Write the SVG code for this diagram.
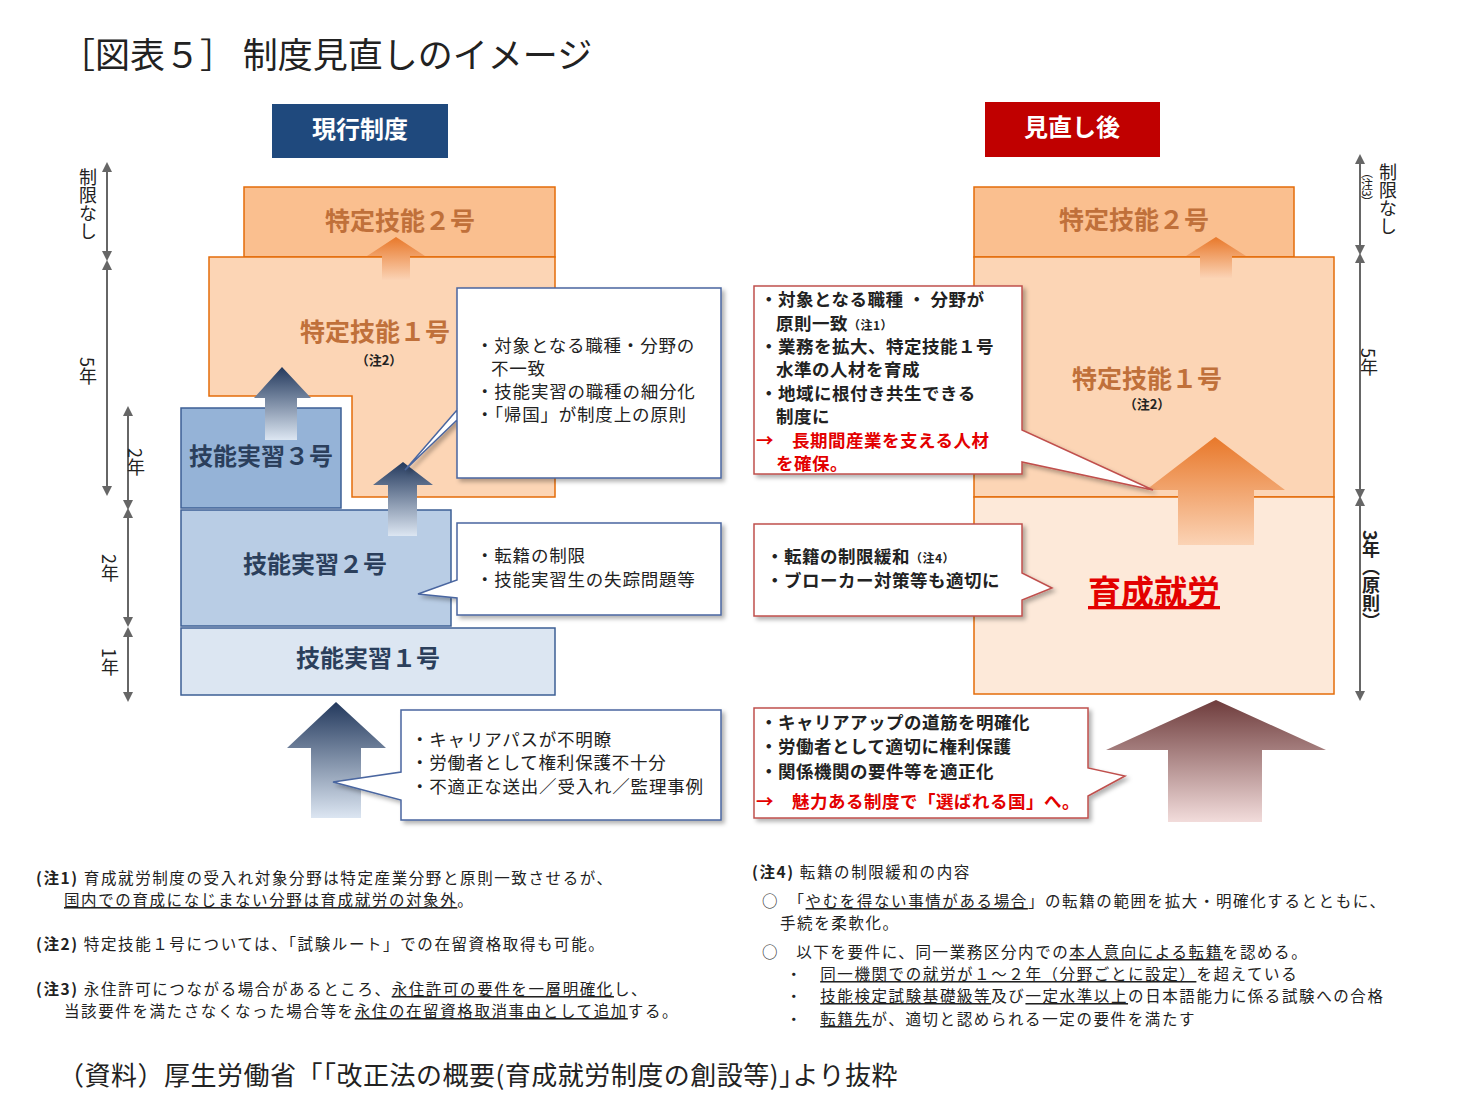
<svg xmlns="http://www.w3.org/2000/svg" width="1479" height="1120" viewBox="0 0 1479 1120">
<style>
text{font-family:"Noto Sans CJK JP","Noto Sans",sans-serif;fill:#222}
.h{font-size:24px;font-weight:bold;fill:#fff}
.ol{font-size:25px;font-weight:bold;fill:#c0703a}
.bl{font-size:24px;font-weight:bold;fill:#2b3f5c}
.c{font-size:17.5px;letter-spacing:0.8px}
.cb{font-size:17.5px;font-weight:bold;letter-spacing:0.5px}
.red{fill:#e30000}
.n{font-size:15.5px;letter-spacing:1.6px}
.nb{font-weight:bold}
.u{text-decoration:underline}
.v{font-size:18px;writing-mode:vertical-rl}
.tl{stroke:#666;stroke-width:2;fill:none;marker-start:url(#ah);marker-end:url(#ah)}
.cl{fill:#fff;stroke:#4a66a0;stroke-width:1.5;filter:url(#sh)}
.cr{fill:#fff;stroke:#c0504d;stroke-width:1.5;filter:url(#sh)}
.or{stroke:#e46c0a;stroke-width:1.5}
.bs{stroke:#3d5f95;stroke-width:1.5}
</style>
<defs>
<marker id="ah" viewBox="0 0 10 10" refX="5" refY="5" markerWidth="5" markerHeight="5" orient="auto-start-reverse"><path d="M0,0L10,5L0,10z" fill="#666"/></marker>
<filter id="sh" x="-10%" y="-10%" width="125%" height="125%"><feDropShadow dx="3" dy="3" stdDeviation="2" flood-color="#000" flood-opacity="0.3"/></filter>
<linearGradient id="go" x1="0" y1="0" x2="0" y2="1"><stop offset="0" stop-color="#e8782a"/><stop offset="1" stop-color="#fbd3b5"/></linearGradient>
<linearGradient id="gb" x1="0" y1="0" x2="0" y2="1"><stop offset="0" stop-color="#23395d"/><stop offset="1" stop-color="#dce6f2"/></linearGradient>
<linearGradient id="gr" x1="0" y1="0" x2="0" y2="1"><stop offset="0" stop-color="#6e3c3c"/><stop offset="1" stop-color="#f2dcdb"/></linearGradient>
</defs>
<rect width="1479" height="1120" fill="#fff"/>
<text x="60" y="68" style="font-size:35px">［図表５］ 制度見直しのイメージ</text>

<g id="hdr-left"><rect x="272" y="104" width="176" height="54" fill="#1f497d"/><text class="h" x="360" y="138" text-anchor="middle">現行制度</text></g>
<g id="hdr-right"><rect x="985" y="102" width="175" height="55" fill="#c00000"/><text class="h" x="1072" y="136" text-anchor="middle">見直し後</text></g>

<g id="l-tokutei2"><rect class="or" x="244" y="187" width="311" height="70" fill="#fabf8f"/><text class="ol" x="400" y="230" text-anchor="middle">特定技能２号</text></g>
<g id="l-tokutei1"><path class="or" d="M209,257H555V497H352V396H209Z" fill="#fcd5b5"/><text class="ol" x="375" y="341" text-anchor="middle">特定技能１号</text><text x="379" y="365" text-anchor="middle" style="font-size:13px;font-weight:bold">（注2）</text></g>
<g id="l-jisshu3"><rect class="bs" x="181" y="408" width="160" height="100" fill="#95b3d7"/><text class="bl" x="261" y="465" text-anchor="middle">技能実習３号</text></g>
<g id="l-jisshu2"><rect class="bs" x="181" y="510" width="270" height="116" fill="#b9cde5"/><text class="bl" x="315" y="573" text-anchor="middle">技能実習２号</text></g>
<g id="l-jisshu1"><rect class="bs" x="181" y="628" width="374" height="67" fill="#dce6f2"/><text class="bl" x="368" y="667" text-anchor="middle">技能実習１号</text></g>

<g id="r-tokutei2"><rect class="or" x="974" y="187" width="320" height="70" fill="#fabf8f"/><text class="ol" x="1134" y="229" text-anchor="middle">特定技能２号</text></g>
<g id="r-tokutei1"><rect class="or" x="974" y="257" width="360" height="240" fill="#fcd5b5"/><text class="ol" x="1147" y="388" text-anchor="middle">特定技能１号</text><text x="1147" y="409" text-anchor="middle" style="font-size:13px;font-weight:bold">（注2）</text></g>
<g id="r-ikusei"><rect class="or" x="974" y="497" width="360" height="197" fill="#fde9d9"/><text x="1154" y="604" text-anchor="middle" style="font-size:33px;font-weight:bold;fill:#e30000;text-decoration:underline">育成就労</text></g>

<g id="connectors">
<path d="M382,280V256H367L396,237L425,256H410V280Z" fill="url(#go)"/>
<path d="M1200,278V256H1186L1216,237L1246,256H1232V278Z" fill="url(#go)"/>
<path d="M265,440V398H254L282,367L311,398H297V440Z" fill="url(#gb)"/>
<path d="M388,536V485H373L403,462L433,485H417V536Z" fill="url(#gb)"/>
<path d="M311,818V748H287L336,702L386,748H361V818Z" fill="url(#gb)"/>
<path d="M1178,545V490H1146L1215,437L1285,490H1254V545Z" fill="url(#go)"/>
<path d="M1168,822V750H1106L1216,700L1326,750H1262V822Z" fill="url(#gr)"/>
<path class="tl" d="M107,167V256"/><path class="tl" d="M107,265V491"/>
<path class="tl" d="M128,411V505"/><path class="tl" d="M128,513V622"/><path class="tl" d="M128,632V697"/>
<path class="tl" d="M1360,159V250"/><path class="tl" d="M1360,258V494"/><path class="tl" d="M1360,501V696"/>
</g>

<g id="timeline-labels">
<text class="v" x="88" y="168">制限なし</text>
<text class="v" x="88" y="357">5年</text>
<text class="v" x="136" y="448">2年</text>
<text class="v" x="110" y="554">2年</text>
<text class="v" x="110" y="648">1年</text>
<text class="v" x="1388" y="163">制限なし</text>
<text x="1367" y="166" style="font-size:12px;writing-mode:vertical-rl">（注3）</text>
<text class="v" x="1369" y="348">5年</text>
<text class="v" x="1371" y="530" style="font-weight:bold">3年（原則）</text>
</g>

<g id="callout-l1"><path class="cl" d="M457,288H721V478H457V410L405,470L457,420Z"/>
<text class="c" x="476" y="352">・対象となる職種・分野の</text><text class="c" x="491" y="375">不一致</text><text class="c" x="476" y="398">・技能実習の職種の細分化</text><text class="c" x="476" y="421">・「帰国」が制度上の原則</text></g>
<g id="callout-l2"><path class="cl" d="M457,523H721V615H457V598L418,594L457,580Z"/>
<text class="c" x="476" y="562">・転籍の制限</text><text class="c" x="476" y="586">・技能実習生の失踪問題等</text></g>
<g id="callout-l3"><path class="cl" d="M401,710H721V820H401V800L333,782L401,772Z"/>
<text class="c" x="411" y="746">・キャリアパスが不明瞭</text><text class="c" x="411" y="769">・労働者として権利保護不十分</text><text class="c" x="411" y="793">・不適正な送出／受入れ／監理事例</text></g>

<g id="callout-r1"><path class="cr" d="M754,286H1022V430L1153,490L1022,462V474H754Z"/>
<text class="cb" x="760" y="306">・対象となる職種 ・ 分野が</text><text class="cb" x="776" y="330">原則一致<tspan style="font-size:12px">（注1）</tspan></text>
<text class="cb" x="760" y="353">・業務を拡大、特定技能１号</text><text class="cb" x="776" y="376">水準の人材を育成</text>
<text class="cb" x="760" y="400">・地域に根付き共生できる</text><text class="cb" x="776" y="423">制度に</text>
<text class="cb red" x="756" y="447">→　長期間産業を支える人材</text><text class="cb red" x="776" y="470">を確保。</text></g>
<g id="callout-r2"><path class="cr" d="M754,524H1022V573L1052,588L1022,600V616H754Z"/>
<text class="cb" x="766" y="563">・転籍の制限緩和<tspan style="font-size:12px">（注4）</tspan></text><text class="cb" x="766" y="587">・ブローカー対策等も適切に</text></g>
<g id="callout-r3"><path class="cr" d="M754,708H1088V768L1125,776L1088,796V818H754Z"/>
<text class="cb" x="760" y="729">・キャリアアップの道筋を明確化</text><text class="cb" x="760" y="753">・労働者として適切に権利保護</text><text class="cb" x="760" y="778">・関係機関の要件等を適正化</text>
<text class="cb red" x="756" y="808">→　魅力ある制度で「選ばれる国」へ。</text></g>

<g id="notes">
<text class="n" x="36" y="884"><tspan class="nb">(注1)</tspan> 育成就労制度の受入れ対象分野は特定産業分野と原則一致させるが、</text>
<text class="n" x="64" y="906"><tspan class="u">国内での育成になじまない分野は育成就労の対象外</tspan>。</text>
<text class="n" x="36" y="950"><tspan class="nb">(注2)</tspan> 特定技能１号については、「試験ルート」での在留資格取得も可能。</text>
<text class="n" x="36" y="995"><tspan class="nb">(注3)</tspan> 永住許可につながる場合があるところ、<tspan class="u">永住許可の要件を一層明確化</tspan>し、</text>
<text class="n" x="64" y="1017">当該要件を満たさなくなった場合等を<tspan class="u">永住の在留資格取消事由として追加</tspan>する。</text>
<text class="n" x="752" y="878"><tspan class="nb">(注4)</tspan> 転籍の制限緩和の内容</text>
<text class="n" x="762" y="907">○　「<tspan class="u">やむを得ない事情がある場合</tspan>」の転籍の範囲を拡大・明確化するとともに、</text>
<text class="n" x="780" y="929">手続を柔軟化。</text>
<text class="n" x="762" y="958">○　以下を要件に、同一業務区分内での<tspan class="u">本人意向による転籍</tspan>を認める。</text>
<text class="n" x="786" y="980">・　<tspan class="u">同一機関での就労が１～２年（分野ごとに設定）</tspan>を超えている</text>
<text class="n" x="786" y="1002">・　<tspan class="u">技能検定試験基礎級等</tspan>及び<tspan class="u">一定水準以上</tspan>の日本語能力に係る試験への合格</text>
<text class="n" x="786" y="1025">・　<tspan class="u">転籍先</tspan>が、適切と認められる一定の要件を満たす</text>
</g>
<text x="58" y="1085" style="font-size:26px;letter-spacing:0.5px">（資料）厚生労働省「｢改正法の概要(育成就労制度の創設等)｣より抜粋</text>
</svg>
